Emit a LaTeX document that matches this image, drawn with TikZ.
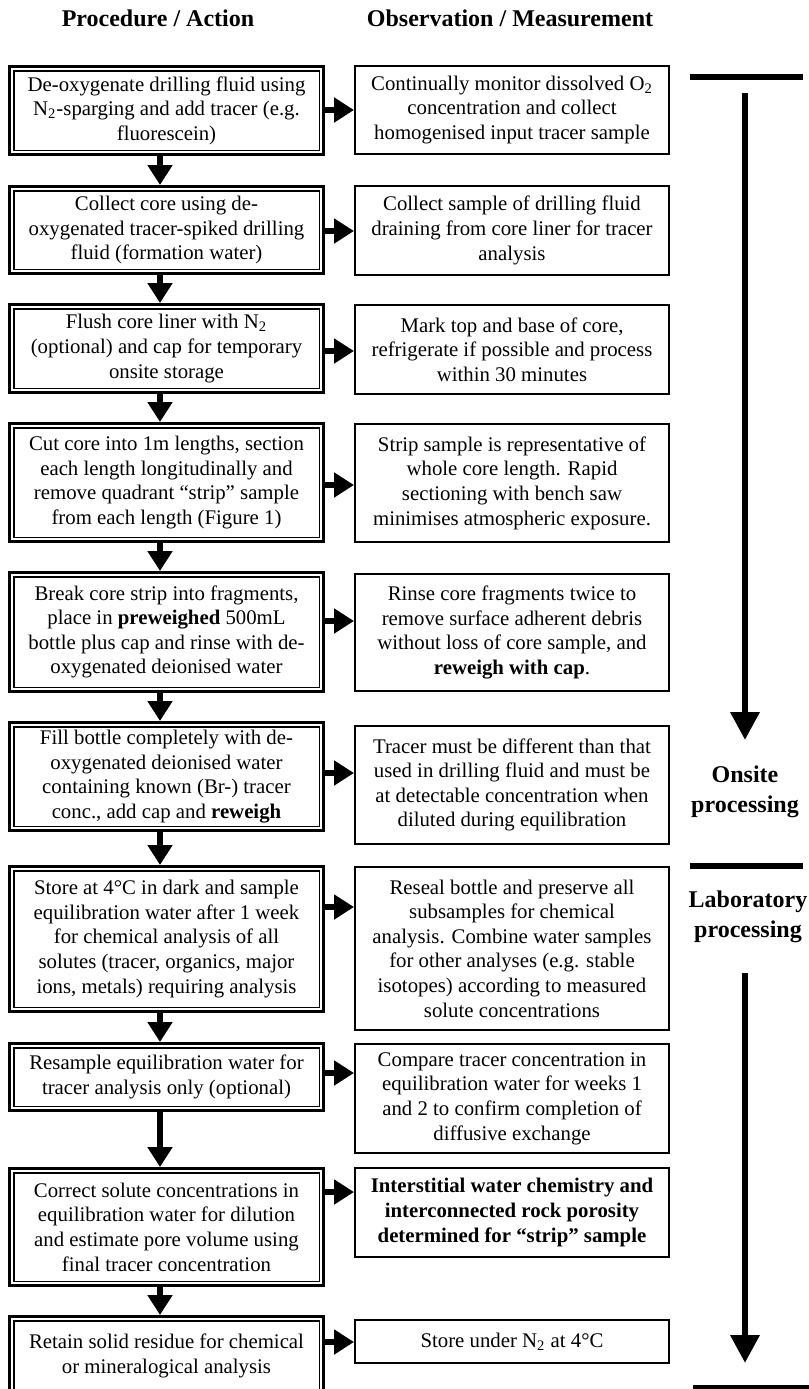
\documentclass[tikz,border=0pt]{standalone}
\usepackage{fontspec}
\setmainfont{Liberation Serif}
\usetikzlibrary{arrows.meta}
\tikzset{pr/.style = {draw, line width=1.5pt, minimum width=157pt, inner sep=2pt, align=center,
           font=\fontsize{10.4}{12.3}\selectfont,
           path picture={\draw[line width=0.6pt] ([shift={(2.2pt,2.2pt)}]path picture bounding box.south west)
             rectangle ([shift={(-2.2pt,-2.2pt)}]path picture bounding box.north east);}},
         ob/.style = {draw, line width=1pt, minimum width=157pt, inner sep=2pt, align=center,
           font=\fontsize{10.4}{12.3}\selectfont},
         hd/.style = {align=center, font=\fontsize{12}{14.7}\selectfont\bfseries},
         ar/.style = {line width=3pt, -{Triangle[width=12pt, length=10pt]}},
         big/.style = {line width=3.25pt, -{Triangle[width=14pt, length=14pt]}},
         bar/.style = {line width=3pt}}

\begin{document}
\begin{tikzpicture}[x=0.5pt, y=-0.5pt]
    \useasboundingbox (0,0) rectangle (809,1389);
    \node[hd] (hp) at (158,18) {Procedure / Action};
    \node[hd] (ho) at (510,18) {Observation / Measurement};
    % procedure column
    \node[pr, minimum height=44pt] (l1) at (166.5,110.5) {De-oxygenate drilling fluid using\\N\textsubscript{2}-sparging and add tracer (e.g.\\fluorescein)};
    \node[pr, minimum height=43.5pt] (l2) at (166.5,230) {Collect core using de-\\oxygenated tracer-spiked drilling\\fluid (formation water)};
    \node[pr, minimum height=44pt] (l3) at (166.5,348.5) {Flush core liner with N\textsubscript{2}\\(optional) and cap for temporary\\onsite storage};
    \node[pr, minimum height=59pt] (l4) at (166.5,482.5) {Cut core into 1m lengths, section\\each length longitudinally and\\remove quadrant “strip” sample\\from each length (Figure 1)};
    \node[pr, minimum height=59.5pt] (l5) at (166.5,632) {Break core strip into fragments,\\place in \textbf{preweighed} 500mL\\bottle plus cap and rinse with de-\\oxygenated deionised water};
    \node[pr, minimum height=54pt] (l6) at (166.5,776.5) {Fill bottle completely with de-\\oxygenated deionised water\\containing known (Br-) tracer\\conc., add cap and \textbf{reweigh}};
    \node[pr, minimum height=72.5pt] (l7) at (166.5,939) {Store at 4°C in dark and sample\\equilibration water after 1 week\\for chemical analysis of all\\solutes (tracer, organics, major\\ions, metals) requiring analysis};
    \node[pr, minimum height=33.5pt] (l8) at (166.5,1077) {Resample equilibration water for\\tracer analysis only (optional)};
    \node[pr, minimum height=58.5pt] (l9) at (166.5,1227) {Correct solute concentrations in\\equilibration water for dilution\\and estimate pore volume using\\final tracer concentration};
    \node[pr, minimum height=39.5pt] (l10) at (166.5,1356) {Retain solid residue for chemical\\or mineralogical analysis};
    % observation column
    \node[ob, minimum height=44pt] (r1) at (512,110) {Continually monitor dissolved O\textsubscript{2}\\concentration and collect\\homogenised input tracer sample};
    \node[ob, minimum height=44.5pt] (r2) at (512,230.5) {Collect sample of drilling fluid\\draining from core liner for tracer\\analysis};
    \node[ob, minimum height=44.5pt] (r3) at (512,349.5) {Mark top and base of core,\\refrigerate if possible and process\\within 30 minutes};
    \node[ob, minimum height=59pt] (r4) at (512,483) {Strip sample is representative of\\whole core length. Rapid\\sectioning with bench saw\\minimises atmospheric exposure.};
    \node[ob, minimum height=58.5pt] (r5) at (512,632.5) {Rinse core fragments twice to\\remove surface adherent debris\\without loss of core sample, and\\\textbf{reweigh with cap}.};
    \node[ob, minimum height=59pt] (r6) at (512,785) {Tracer must be different than that\\used in drilling fluid and must be\\at detectable concentration when\\diluted during equilibration};
    \node[ob, minimum height=81.5pt] (r7) at (512,948.5) {Reseal bottle and preserve all\\subsamples for chemical\\analysis. Combine water samples\\for other analyses (e.g. stable\\isotopes) according to measured\\solute concentrations};
    \node[ob, minimum height=54.5pt] (r8) at (512,1098.5) {Compare tracer concentration in\\equilibration water for weeks 1\\and 2 to confirm completion of\\diffusive exchange};
    \node[ob, minimum height=44.5pt, font=\fontsize{10.4}{12.3}\selectfont\bfseries] (r9) at (512,1212.5) {Interstitial water chemistry and\\interconnected rock porosity\\determined for “strip” sample};
    \node[ob, minimum height=21.5pt] (r10) at (512,1341.5) {Store under N\textsubscript{2} at 4°C};
    % down arrows
    \draw[ar] (l1.south -| 160,0) -- (l2.north -| 160,0);
    \draw[ar] (l2.south -| 160,0) -- (l3.north -| 160,0);
    \draw[ar] (l3.south -| 160,0) -- (l4.north -| 160,0);
    \draw[ar] (l4.south -| 160,0) -- (l5.north -| 160,0);
    \draw[ar] (l5.south -| 160,0) -- (l6.north -| 160,0);
    \draw[ar] (l6.south -| 160,0) -- (l7.north -| 160,0);
    \draw[ar] (l7.south -| 160,0) -- (l8.north -| 160,0);
    \draw[ar] (l8.south -| 160,0) -- (l9.north -| 160,0);
    \draw[ar] (l9.south -| 160,0) -- (l10.north -| 160,0);
    % side arrows
    \draw[ar] (l1.east |- 0,110) -- (r1.west |- 0,110);
    \draw[ar] (l2.east |- 0,231) -- (r2.west |- 0,231);
    \draw[ar] (l3.east |- 0,351) -- (r3.west |- 0,351);
    \draw[ar] (l4.east |- 0,485) -- (r4.west |- 0,485);
    \draw[ar] (l5.east |- 0,621) -- (r5.west |- 0,621);
    \draw[ar] (l6.east |- 0,773) -- (r6.west |- 0,773);
    \draw[ar] (l7.east |- 0,907) -- (r7.west |- 0,907);
    \draw[ar] (l8.east |- 0,1073) -- (r8.west |- 0,1073);
    \draw[ar] (l9.east |- 0,1192) -- (r9.west |- 0,1192);
    \draw[ar] (l10.east |- 0,1342) -- (r10.west |- 0,1342);
    % phases
    \draw[bar] (690,77) -- (803,77);
    \draw[big] (745,93) -- (745,740);
    \node[hd] (on) at (745,792) {Onsite\\processing};
    \draw[bar] (690,866) -- (803,866);
    \node[hd] (lab) at (748,917) {Laboratory\\processing};
    \draw[big] (745,973) -- (745,1363);
    \draw[bar] (693,1388) -- (815,1388);
  \end{tikzpicture}
\end{document}
